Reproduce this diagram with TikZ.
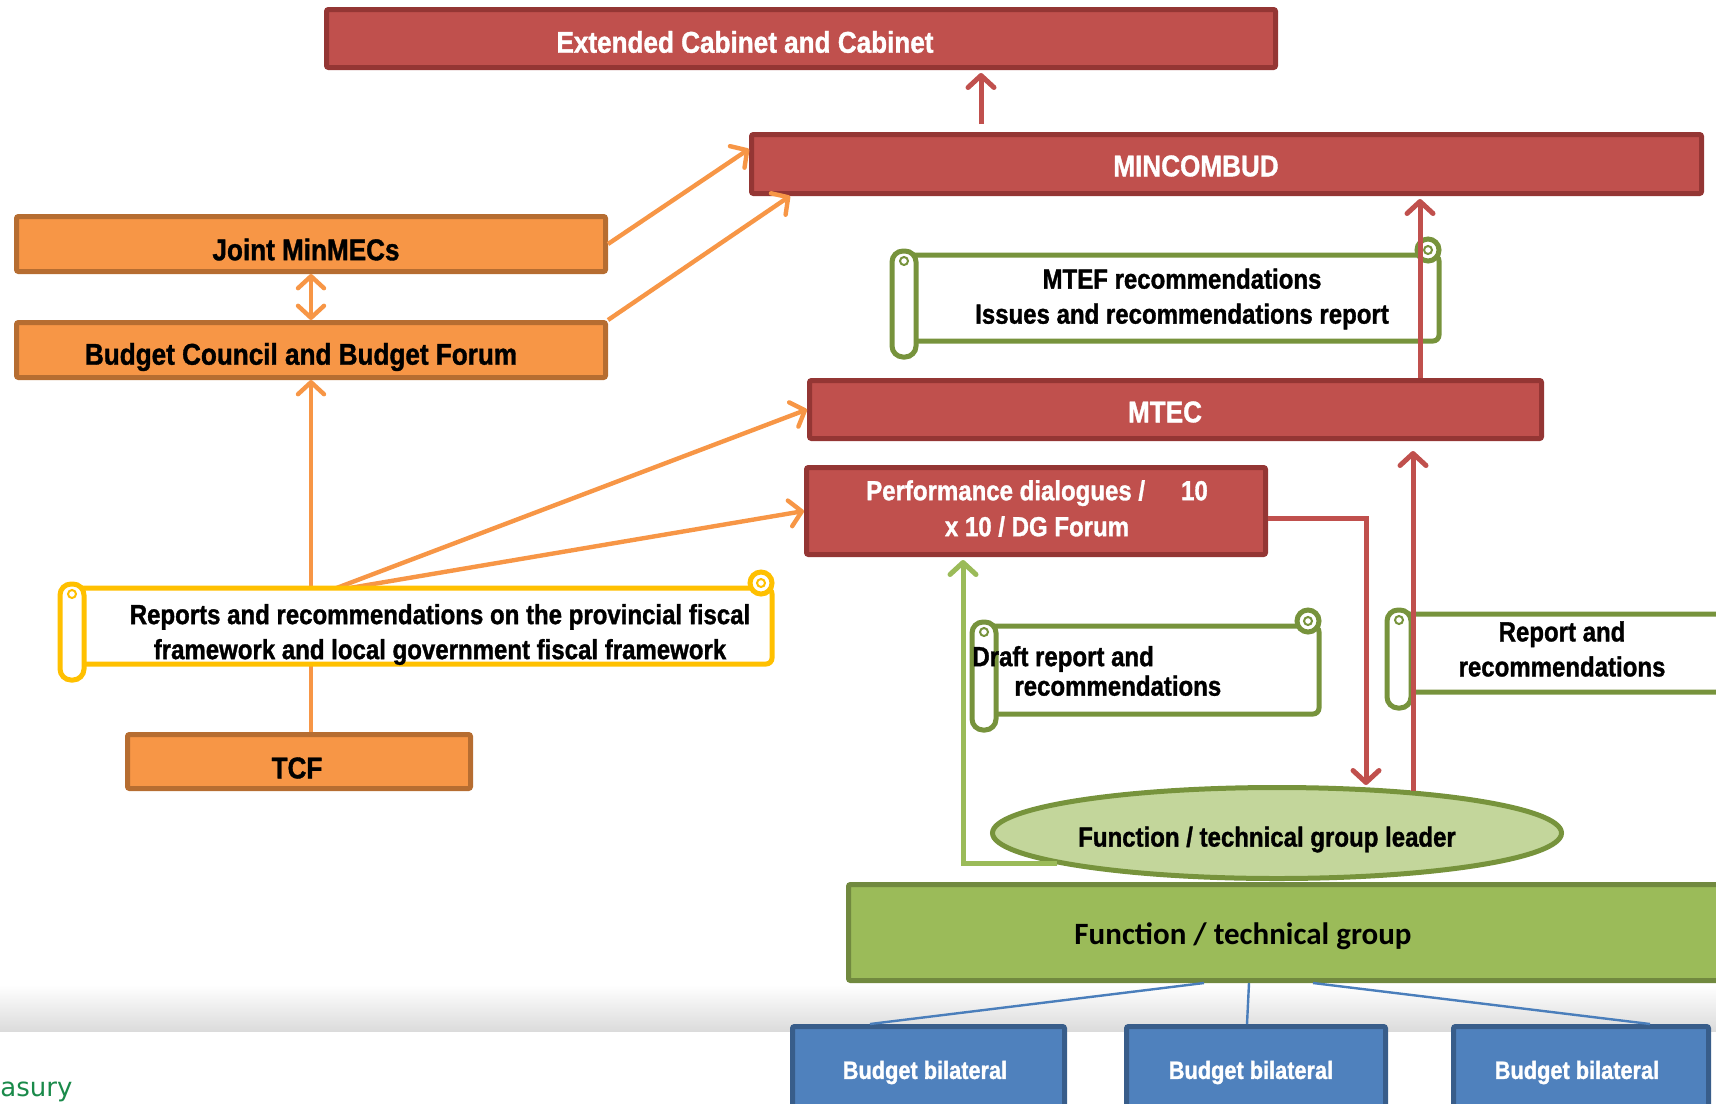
\documentclass[tikz,border=0pt]{standalone}
\usepackage{fontspec}
\setmainfont{Liberation Sans}[FakeStretch=0.87, BoldFeatures={FakeBold=1.2}]
\newfontfamily\calibfont{Carlito}
\newfontfamily\treasfont{DejaVu Sans}
\usetikzlibrary{arrows.meta,shapes.geometric}
\definecolor{redF}{HTML}{C0504D}
\definecolor{redD}{HTML}{943634}
\definecolor{orF}{HTML}{F79646}
\definecolor{orD}{HTML}{B66D31}
\definecolor{grS}{HTML}{77933C}
\definecolor{yeS}{HTML}{FFC000}
\definecolor{fgF}{HTML}{9BBB59}
\definecolor{fgD}{HTML}{71893F}
\definecolor{ellF}{HTML}{C3D69B}
\definecolor{ellD}{HTML}{77933C}
\definecolor{blF}{HTML}{4F81BD}
\definecolor{blD}{HTML}{385D8A}
\definecolor{blL}{HTML}{4A7EBB}
\definecolor{trG}{HTML}{1A8A4A}
% scroll: #1 colour, #2 left, #3 top, #4 right, #5 bottom (pixel units, y down)
\newcommand{\scrollshape}[5]{%
  \filldraw[draw=#1, fill=white, line width=2.5pt, rounded corners=3pt]
    (#2+12,#3) -- (#4,#3) -- (#4,#5) -- (#2+12,#5) -- cycle;
  \filldraw[draw=#1, fill=white, line width=2.5pt] (#4-11,#3-5) circle[radius=5.5pt];
  \draw[#1, line width=1pt] (#4-11,#3-5) circle[radius=2pt];
  \filldraw[draw=#1, fill=white, line width=2.5pt, rounded corners=5.5pt]
    (#2,#3-4) rectangle (#2+24,#5+16);
  \draw[#1, line width=1pt] (#2+12,#3+6) circle[radius=2pt];
}
\begin{document}
\begin{tikzpicture}[x=0.5pt,y=-0.5pt,
  every node/.style={font=\bfseries},
  box/.style={rectangle, line width=2.5pt, inner sep=0pt, rounded corners=1pt},
  redbox/.style={box, draw=redD, fill=redF},
  orbox/.style={box, draw=orD, fill=orF},
  bigtxt/.style={font=\fontsize{15}{18}\selectfont\bfseries},
  midtxt/.style={font=\fontsize{13.8}{17.5}\selectfont\bfseries},
  bbtxt/.style={text=white, font=\fontsize{12.5}{15}\selectfont\bfseries},
  oarrow/.style={draw=orF, line width=2.2pt, -{Straight Barb[length=6pt,width=13pt,round,line width=2.2pt]}},
  oline/.style={draw=orF, line width=2.2pt},
  rarrow/.style={draw=redF, line width=2.5pt, -{Straight Barb[length=6pt,width=13pt,round,line width=2.5pt]}},
  garrow/.style={draw=fgF, line width=2.5pt, -{Straight Barb[length=6pt,width=13pt,round,line width=2.5pt]}},
  bline/.style={draw=blL, line width=1.2pt}
]
\useasboundingbox (0,0) rectangle (1716,1103);
\clip (0,0) rectangle (1716,1103);
\shade[top color=white, bottom color=black!14] (0,985) rectangle (1716,1031);

% boxes
\node[redbox, minimum width=474.5pt, minimum height=29pt] (ext) at (801,38.5) {};
\node[bigtxt, text=white] (extT) at (745,42) {Extended Cabinet and Cabinet};
\node[redbox, minimum width=475pt, minimum height=29.5pt] (minc) at (1226.5,164) {};
\node[bigtxt, text=white] (mincT) at (1196,166) {MINCOMBUD};
\node[orbox, minimum width=294.5pt, minimum height=27.5pt] (joint) at (311,244) {};
\node[bigtxt] (jointT) at (306,249.5) {Joint MinMECs};
\node[orbox, minimum width=294.5pt, minimum height=27.5pt] (council) at (311,350) {};
\node[bigtxt] (councilT) at (301,357) {Budget Council and Budget Forum};
\node[redbox, minimum width=366pt, minimum height=29pt] (mtec) at (1175.5,409.5) {};
\node[bigtxt, text=white] (mtecT) at (1165,412) {MTEC};
\node[redbox, minimum width=229.5pt, minimum height=43.5pt] (perf) at (1036,511) {};
\node[midtxt, text=white, align=center] (perfT) at (1037,508.5)
  {Performance dialogues /\hspace*{18pt}10\\[0.5pt]x 10 / DG Forum};
\node[orbox, minimum width=171.5pt, minimum height=27pt] (tcf) at (299,761.5) {};
\node[bigtxt] (tcfT) at (297,768) {TCF};
\node[box, draw=fgD, fill=fgF, minimum width=439.5pt, minimum height=48pt] (fg) at (1288,932.5) {};
\node[font=\fontsize{15.5}{18}\calibfont\bfseries] (fgT) at (1243,936.5) {Function / technical group};
\node[ellipse, draw=ellD, fill=ellF, line width=2.5pt, minimum width=284.5pt, minimum height=45.5pt,
  inner sep=0pt] (ell) at (1277,833) {};
\node[midtxt] (ellT) at (1267,839.5) {Function / technical group leader};
\node[box, draw=blD, fill=blF, minimum width=136pt, minimum height=43pt] (bb1) at (928.5,1069.5) {};
\node[bbtxt] (bb1T) at (925,1072.5) {Budget bilateral};
\node[box, draw=blD, fill=blF, minimum width=129.5pt, minimum height=43pt] (bb2) at (1256,1069.5) {};
\node[bbtxt] (bb2T) at (1251,1072.5) {Budget bilateral};
\node[box, draw=blD, fill=blF, minimum width=127.5pt, minimum height=43pt] (bb3) at (1581,1069.5) {};
\node[bbtxt] (bb3T) at (1577,1072.5) {Budget bilateral};

% blue connectors
\draw[bline] ([xshift=-42pt]fg.south) -- ([xshift=-29.25pt]bb1.north);
\draw[bline] ([xshift=-19.5pt]fg.south) -- ([xshift=-4.5pt]bb2.north);
\draw[bline] ([xshift=12.5pt]fg.south) -- ([xshift=34.5pt]bb3.north);

% orange connectors
\coordinate (rpo) at (311,596);
\coordinate (rpo2) at (326,592);
\draw[oline] (tcf.north -| rpo) -- (rpo);
\draw[oarrow] (rpo) -- (council.south);
\draw[oarrow] (rpo2) -- (mtec.west);
\draw[oarrow] (rpo2) -- (perf.west);
\draw[oarrow] (joint.east) -- ([yshift=7.5pt]minc.west);
\draw[oarrow] (council.north east) -- ([xshift=20.5pt]minc.south west);
\draw[draw=orF, line width=2.2pt, {Straight Barb[length=6pt,width=13pt,round,line width=2.2pt]}-{Straight Barb[length=6pt,width=13pt,round,line width=2.2pt]}]
  (joint.south) -- (council.north);

% scrolls
\scrollshape{grS}{892}{255}{1439}{341}
\node[midtxt, align=center] (mtefT) at (1182,299) {MTEF recommendations\\Issues and recommendations report};
\scrollshape{yeS}{60}{588}{772}{664}
\node[midtxt, align=center] (repT) at (440,634.5) {Reports and recommendations on the provincial fiscal\\framework and local government fiscal framework};
\scrollshape{grS}{972}{626}{1319}{714}
\node[midtxt, align=left, anchor=west, inner sep=0pt] (draftT) at (972,671) {Draft report and\\[-2.75pt]\hspace*{21pt}recommendations};
\scrollshape{grS}{1387}{614}{1745}{692}
\node[midtxt, align=center] (rrT) at (1562,649) {Report and\\recommendations};

% red connectors
\coordinate (c1) at ([xshift=-122.75pt]minc.north);
\draw[rarrow, shorten <=4pt, shorten >=1.5pt] (c1) -- (c1 |- ext.south);
\coordinate (c2) at ([xshift=122.25pt]mtec.north);
\draw[rarrow, shorten >=1.5pt] (c2) -- (c2 |- minc.south);
\coordinate (c3) at ([xshift=68pt,yshift=-3pt]ell.north);
\draw[rarrow, shorten >=5pt] (c3) -- (c3 |- mtec.south);
\draw[rarrow] ([yshift=-3.5pt]perf.east) -| ([xshift=44.5pt]ell.north);

% green connector
\draw[garrow, shorten >=1.5pt] (ell.188) -| ([xshift=-36.5pt]perf.south);

% footer text
\node[font=\fontsize{13}{15}\treasfont, text=trG, anchor=base west, inner sep=0pt] (treas) at (0,1096) {asury};
\end{tikzpicture}
\end{document}
